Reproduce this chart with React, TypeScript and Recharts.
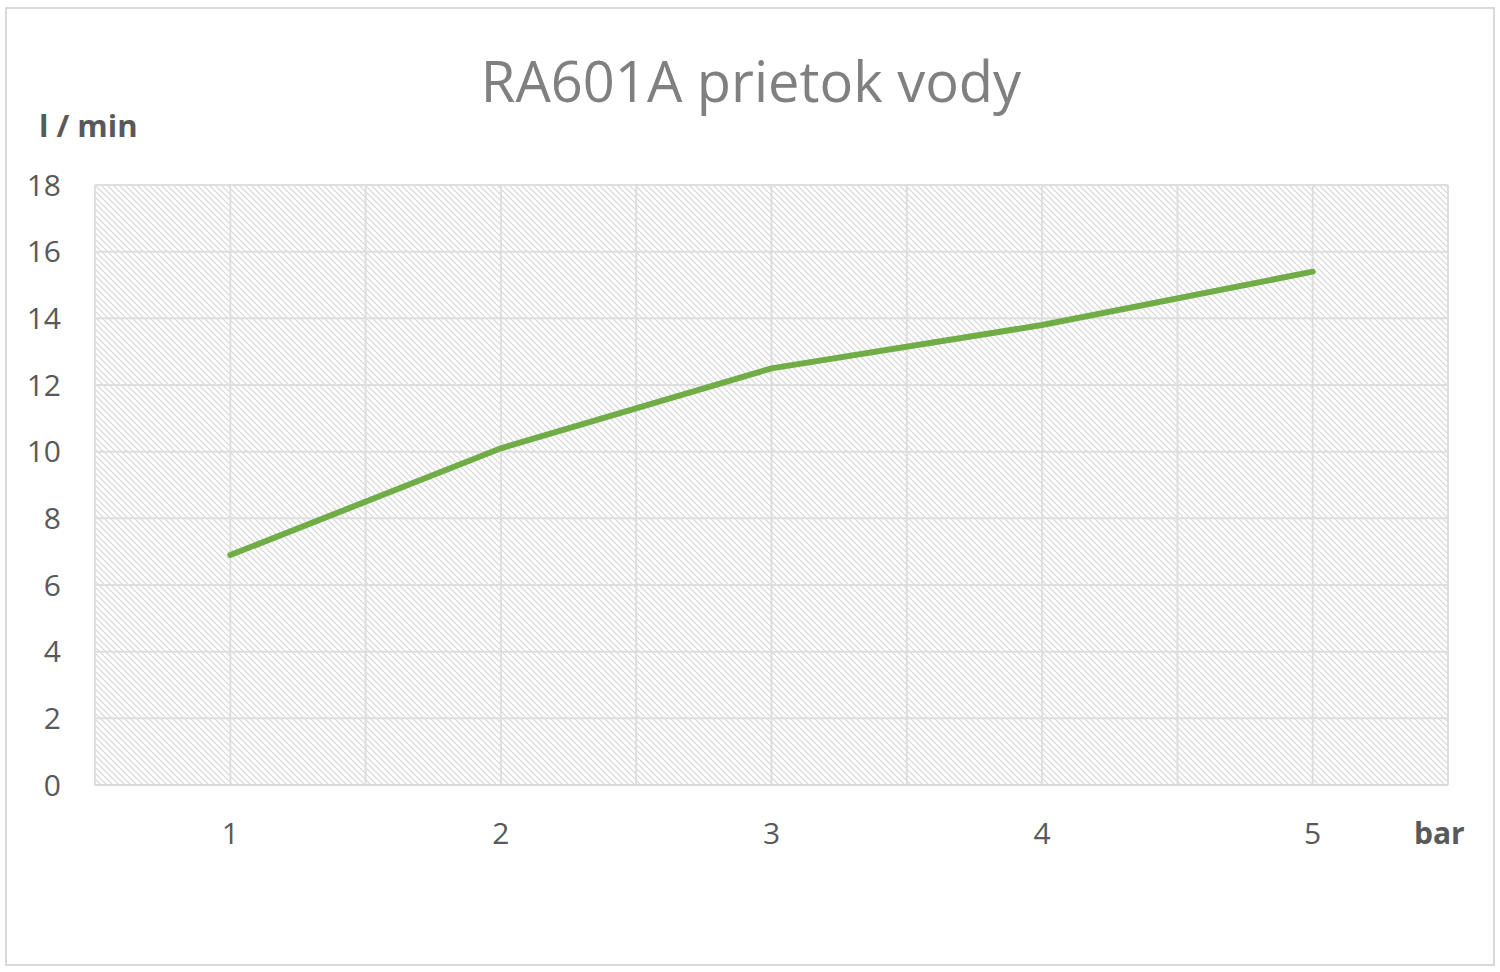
import React from "react";
import { LineChart, Line, XAxis, YAxis, CartesianGrid } from "recharts";

const pressures = [1, 2, 3, 4, 5];
const flows = [6.9, 10.1, 12.5, 13.8, 15.4];
const xTicks = [0.5, 1, 1.5, 2, 2.5, 3, 3.5, 4, 4.5, 5, 5.5];
const yTicks = [0, 2, 4, 6, 8, 10, 12, 14, 16, 18];
const title = "RA601A prietok vody";
const yUnit = "l / min";
const xUnit = "bar";

const data = pressures.map((p, i) => ({ p, v: flows[i] }));
const FONT = "'Open Sans', 'Noto Sans', sans-serif";

export default function App() {
  return (
    <div style={{ position: "absolute", left: 0, top: 0, width: 1500, height: 972, background: "#fff", fontFamily: FONT }}>
      <div style={{ position: "absolute", left: 5, top: 7, width: 1490, height: 959, border: "2px solid #d9d9d9", boxSizing: "border-box" }} />
      <div style={{ position: "absolute", left: 0, top: 42, width: 1502, textAlign: "center", fontSize: 56, color: "#808080" }}>{title}</div>
      <div style={{ position: "absolute", left: 39, top: 104, fontSize: 31, fontWeight: 700, color: "#595959" }}>{yUnit}</div>
      <div style={{ position: "absolute", left: 1414, top: 812, fontSize: 30, fontWeight: 700, color: "#595959" }}>{xUnit}</div>
      <div style={{ position: "absolute", left: 0, top: 0 }}>
        <LineChart width={1500} height={972} data={data} margin={{ top: 185, right: 52, bottom: 127, left: 35 }}>
          <defs>
            <pattern id="hatch" patternUnits="userSpaceOnUse" width="6" height="6">
              <rect width="6" height="6" fill="#ffffff" />
              <path d="M0,0 L6,6 M-1,5 L1,7 M5,-1 L7,1" stroke="#d6d6d6" strokeWidth="1.2" />
            </pattern>
          </defs>
          <CartesianGrid stroke="#dedede" strokeWidth={2} fill="url(#hatch)" fillOpacity={1} />
          <XAxis
            dataKey="p"
            type="number"
            domain={[0.5, 5.5]}
            ticks={xTicks}
            interval={0}
            height={60}
            tickLine={false}
            axisLine={{ stroke: "#d9d9d9", strokeWidth: 2 }}
            tickSize={0}
            tickMargin={38}
            tickFormatter={(v: number) => (Number.isInteger(v) ? String(v) : "")}
            tick={{ fill: "#595959", fontSize: 30, fontFamily: FONT }}
          />
          <YAxis
            type="number"
            domain={[0, 18]}
            ticks={yTicks}
            interval={0}
            width={60}
            axisLine={false}
            tickLine={false}
            tickSize={0}
            tickMargin={34}
            tick={{ fill: "#595959", fontSize: 30, fontFamily: FONT }}
          />
          <Line type="linear" dataKey="v" stroke="#70ad47" strokeWidth={6} strokeLinecap="round" dot={false} isAnimationActive={false} />
        </LineChart>
      </div>
    </div>
  );
}
